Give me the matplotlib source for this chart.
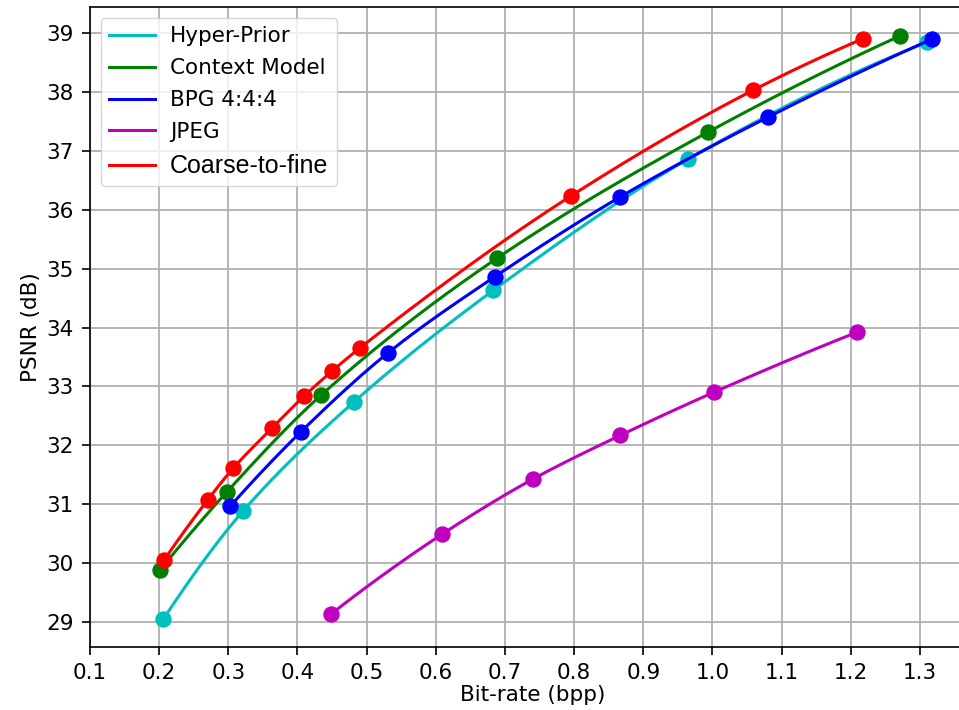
import numpy as np
import matplotlib
matplotlib.use("Agg")
import matplotlib.pyplot as plt

# Rate-distortion results (bit-rate in bpp, PSNR in dB)
hyper_bpp = [0.206, 0.321, 0.481, 0.683, 0.965, 1.310]
hyper_psnr = [29.05, 30.88, 32.73, 34.63, 36.86, 38.84]

context_bpp = [0.201, 0.298, 0.434, 0.689, 0.994, 1.271]
context_psnr = [29.88, 31.21, 32.85, 35.18, 37.32, 38.95]

bpg_bpp = [0.303, 0.405, 0.531, 0.685, 0.867, 1.080, 1.318]
bpg_psnr = [30.97, 32.23, 33.57, 34.86, 36.22, 37.57, 38.90]

jpeg_bpp = [0.449, 0.609, 0.741, 0.867, 1.002, 1.209]
jpeg_psnr = [29.14, 30.49, 31.43, 32.17, 32.90, 33.92]

c2f_bpp = [0.207, 0.270, 0.307, 0.363, 0.410, 0.450, 0.490, 0.795, 1.059, 1.217]
c2f_psnr = [30.05, 31.07, 31.61, 32.29, 32.84, 33.26, 33.65, 36.23, 38.03, 38.90]

labels = ["Hyper-Prior", "Context Model", "BPG 4:4:4", "JPEG", "Coarse-to-fine"]
colors = ["c", "g", "b", "m", "r"]
xticks = [0.1, 0.2, 0.3, 0.4, 0.5, 0.6, 0.7, 0.8, 0.9, 1.0, 1.1, 1.2, 1.3]
yticks = [29, 30, 31, 32, 33, 34, 35, 36, 37, 38, 39]


def pchip(x, y, n=200):
    """Monotone cubic (Fritsch-Carlson) curve through the given points."""
    x = np.asarray(x, float)
    y = np.asarray(y, float)
    h = np.diff(x)
    d = np.diff(y) / h
    m = np.zeros_like(y)
    for k in range(1, len(x) - 1):
        if d[k - 1] * d[k] > 0:
            w1 = 2 * h[k] + h[k - 1]
            w2 = h[k] + 2 * h[k - 1]
            m[k] = (w1 + w2) / (w1 / d[k - 1] + w2 / d[k])
    m[0] = ((2 * h[0] + h[1]) * d[0] - h[0] * d[1]) / (h[0] + h[1]) if len(x) > 2 else d[0]
    if np.sign(m[0]) != np.sign(d[0]):
        m[0] = 0
    m[-1] = ((2 * h[-1] + h[-2]) * d[-1] - h[-1] * d[-2]) / (h[-1] + h[-2]) if len(x) > 2 else d[-1]
    if np.sign(m[-1]) != np.sign(d[-1]):
        m[-1] = 0
    xs = np.linspace(x[0], x[-1], n)
    idx = np.clip(np.searchsorted(x, xs) - 1, 0, len(x) - 2)
    t = (xs - x[idx]) / h[idx]
    h00 = 2 * t**3 - 3 * t**2 + 1
    h10 = t**3 - 2 * t**2 + t
    h01 = -2 * t**3 + 3 * t**2
    h11 = t**3 - t**2
    ys = h00 * y[idx] + h10 * h[idx] * m[idx] + h01 * y[idx + 1] + h11 * h[idx] * m[idx + 1]
    return xs, ys


plt.rcParams["font.family"] = "DejaVu Sans"
plt.rcParams["font.size"] = 15.5

fig = plt.figure(figsize=(9.59, 7.10), dpi=100)
ax = fig.add_axes([90 / 959, 1 - 647 / 710, (975 - 90) / 959, 640 / 710])

series = [
    (hyper_bpp, hyper_psnr),
    (context_bpp, context_psnr),
    (bpg_bpp, bpg_psnr),
    (jpeg_bpp, jpeg_psnr),
    (c2f_bpp, c2f_psnr),
]
handles = []
for (bx, py), lab, col in zip(series, labels, colors):
    sx, sy = pchip(bx, py)
    line, = ax.plot(sx, sy, color=col, lw=2.2, label=lab)
    ax.plot(bx, py, "o", color=col, ms=10.8)
    handles.append(line)

ax.set_xlim(0.1, 1.3 + 55 / 691)
ax.set_ylim(39 - 614 / 58.9, 39 + 26 / 58.9)
ax.set_xticks(xticks)
ax.set_xticklabels([f"{v:.1f}" for v in xticks])
ax.set_yticks(yticks)
ax.grid(True, color="#b0b0b0", lw=1.3)
for s in ax.spines.values():
    s.set_linewidth(1.2)
ax.tick_params(width=1.2, length=5.8, pad=6)

ax.set_xlabel("Bit-rate (bpp)", labelpad=1)
ax.set_ylabel("PSNR (dB)", labelpad=4)

leg = ax.legend(handles=handles, loc="upper left", fontsize=15.5,
                handlelength=2.1, handletextpad=0.7, labelspacing=0.55,
                borderaxespad=0.5)
leg.get_texts()[-1].set_fontfamily("Liberation Sans")
leg.get_texts()[-1].set_fontsize(18)

fig.savefig("out.png", dpi=100)
